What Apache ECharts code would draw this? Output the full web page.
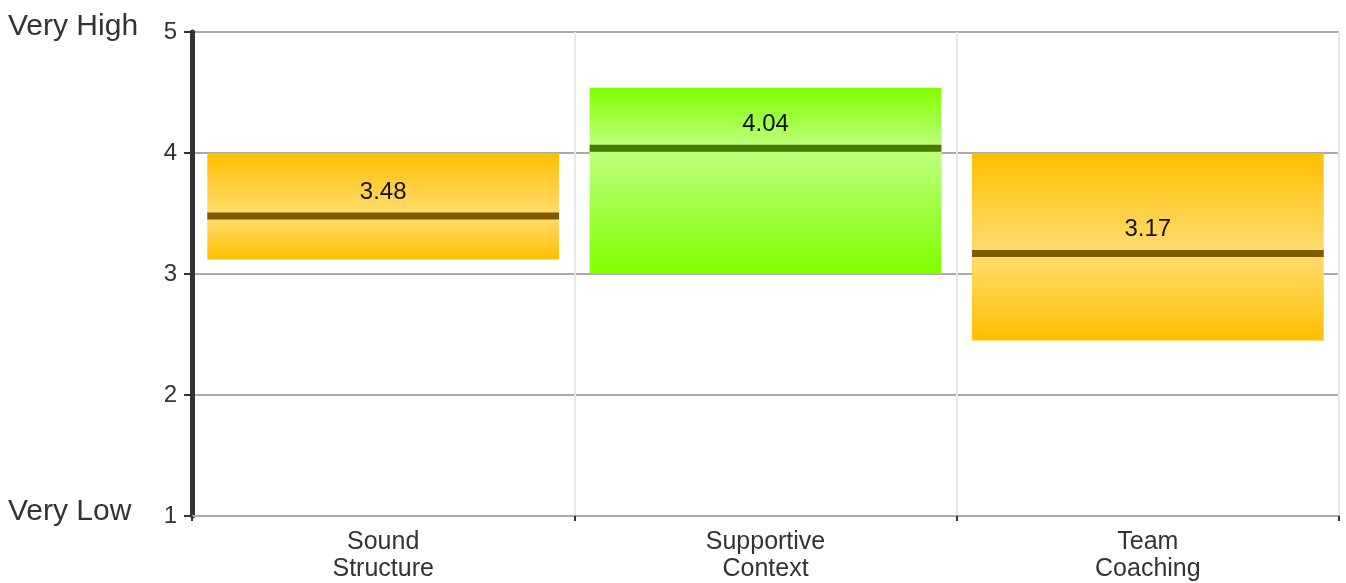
<!DOCTYPE html>
<html><head><meta charset="utf-8">
<script src="https://cdn.jsdelivr.net/npm/echarts@6/dist/echarts.min.js"></script>
<style>html,body{margin:0;padding:0;background:#fff}#c{width:1346px;height:583px}</style>
</head><body><div id="c"></div>
<script>
const categories = ['Sound\nStructure', 'Supportive\nContext', 'Team\nCoaching'];
const lowValues = [3.12, 3.0, 2.45];
const highValues = [4.0, 4.54, 4.0];
const meanValues = [3.48, 4.04, 3.17];
const barColors = ['#FFC000', '#80FF00', '#FFC000'];
const lightColors = ['#FFDC73', '#BFFF80', '#FFDC73'];
const lineColors = ['#7F5B00', '#457A00', '#7F5B00'];
const yTicks = [1, 2, 3, 4, 5];

const data = categories.map((c, i) => [i, lowValues[i], highValues[i], meanValues[i]]);
const font = 'Liberation Sans, Arial, sans-serif';

const chart = echarts.init(document.getElementById('c'));
chart.setOption({
  animation: false,
  grid: { left: 192, right: 7, top: 32, bottom: 67 },
  xAxis: {
    type: 'category', data: categories,
    axisLine: { lineStyle: { color: '#aaaaaa', width: 2 } },
    axisTick: { show: true, length: 5, lineStyle: { color: '#333', width: 2 } },
    axisLabel: { color: '#333', fontSize: 25, fontFamily: font, margin: 13, lineHeight: 27 },
    splitLine: { show: true, lineStyle: { color: '#e8e8e8', width: 2 } }
  },
  yAxis: {
    type: 'value', min: 1, max: 5, interval: 1,
    axisLine: { show: true, lineStyle: { color: '#333', width: 5 } },
    axisTick: { show: true, length: 8, lineStyle: { color: '#333', width: 2 } },
    axisLabel: { color: '#333', fontSize: 24, fontFamily: font, margin: 15,
      formatter: v => yTicks.includes(v) ? String(v) : '' },
    splitLine: { show: true, lineStyle: { color: '#aaaaaa', width: 2 } }
  },
  graphic: [
    { type: 'text', x: 8, y: 27, style: { text: 'Very High', fontSize: 30, fontFamily: font, fill: '#333', verticalAlign: 'middle' } },
    { type: 'text', x: 8, y: 512, style: { text: 'Very Low', fontSize: 30, fontFamily: font, fill: '#333', verticalAlign: 'middle' } }
  ],
  series: [{
    type: 'custom',
    data: data,
    renderItem: function (params, api) {
      const i = api.value(0);
      const lo = api.coord([i, api.value(1)]);
      const hi = api.coord([i, api.value(2)]);
      const mn = api.coord([i, api.value(3)]);
      const w = api.size([1, 0])[0] * 0.92;
      const x = lo[0] - w / 2;
      const h = lo[1] - hi[1];
      const off = Math.min(1, Math.max(0, (mn[1] - hi[1]) / h));
      return {
        type: 'group',
        children: [
          { type: 'rect', shape: { x: x, y: hi[1], width: w, height: h },
            style: { fill: new echarts.graphic.LinearGradient(0, 0, 0, 1, [
              { offset: 0, color: barColors[i] },
              { offset: off, color: lightColors[i] },
              { offset: 1, color: barColors[i] }
            ]) } },
          { type: 'rect', shape: { x: x, y: mn[1] - 3.5, width: w, height: 7 },
            style: { fill: lineColors[i] } },
          { type: 'text', x: mn[0], y: mn[1] - 24,
            style: { text: api.value(3).toFixed(2), fontSize: 24, fontFamily: font, fill: '#111',
              align: 'center', verticalAlign: 'middle' } }
        ]
      };
    }
  }]
});
</script></body></html>
